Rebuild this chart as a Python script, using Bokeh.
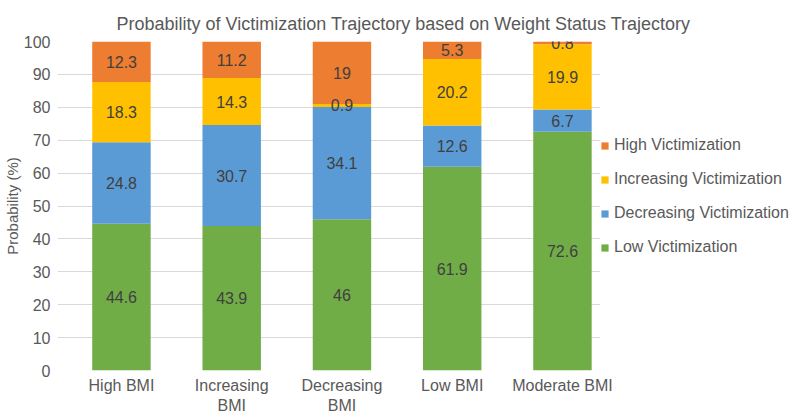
from bokeh.plotting import figure
from bokeh.models import (ColumnDataSource, Legend, LegendItem, LabelSet, Range1d,
                          FixedTicker, LinearAxis)
from bokeh.core.properties import value
from bokeh.embed import file_html
from bokeh.resources import INLINE

categories = ["High BMI", "Increasing BMI", "Decreasing BMI", "Low BMI", "Moderate BMI"]
cat_line1 = ["High BMI", "Increasing", "Decreasing", "Low BMI", "Moderate BMI"]
cat_line2 = ["", "BMI", "BMI", "", ""]
series = ["Low Victimization", "Decreasing Victimization", "Increasing Victimization", "High Victimization"]
low_vict = [44.6, 43.9, 46, 61.9, 72.6]
decreasing_vict = [24.8, 30.7, 34.1, 12.6, 6.7]
increasing_vict = [18.3, 14.3, 0.9, 20.2, 19.9]
high_vict = [12.3, 11.2, 19, 5.3, 0.8]
colors = ["#70AD47", "#5B9BD5", "#FFC000", "#ED7D31"]
y_ticks = [0, 10, 20, 30, 40, 50, 60, 70, 80, 90, 100]

FONT = "Liberation Sans"
TXT = "#595959"

xpos = list(range(len(categories)))
values = [low_vict, decreasing_vict, increasing_vict, high_vict]
data = {"x": xpos}
for name, vals in zip(series, values):
    data[name] = vals
src = ColumnDataSource(data)

p = figure(frame_width=543, frame_height=329, output_backend="svg",
           toolbar_location=None, min_border_left=51, min_border_right=0,
           min_border_top=41, min_border_bottom=10)
p.x_range = Range1d(-0.58, 4.345)
p.y_range = Range1d(0, 100)

renderers = p.vbar_stack(series, x="x", width=0.53, source=src, color=colors,
                         line_color=None)

# data labels
for i, name in enumerate(series):
    bottoms = [sum(values[k][j] for k in range(i)) for j in range(len(categories))]
    mids = [b + v / 2 for b, v in zip(bottoms, values[i])]
    texts = [f"{v:g}" for v in values[i]]
    lsrc = ColumnDataSource(dict(x=xpos, y=mids, t=texts))
    p.add_layout(LabelSet(x="x", y="y", text="t", source=lsrc, text_align="center",
                          text_baseline="middle", text_font=value(FONT),
                          text_font_size="16px", text_color="#404040"))

items = [LegendItem(label=series[i], renderers=[renderers[i]]) for i in [3, 2, 1, 0]]
legend = Legend(items=items, location=(0, 113), label_text_font=FONT,
                label_text_font_size="16px", label_text_color=TXT,
                glyph_width=9, glyph_height=9, label_height=20, spacing=14,
                padding=0, margin=0, border_line_color=None, background_fill_alpha=0,
                label_standoff=5)
p.add_layout(legend, "right")

p.title.text = "Probability of Victimization Trajectory based on Weight Status Trajectory"
p.title.align = "left"
p.title.offset = 59
p.title.text_font = FONT
p.title.text_font_size = "18px"
p.title.text_font_style = "normal"
p.title.text_color = TXT
p.title.standoff = 16

p.outline_line_color = None
p.xgrid.grid_line_color = None
p.ygrid.grid_line_color = "#D9D9D9"
p.yaxis.ticker = FixedTicker(ticks=y_ticks)
p.xaxis.ticker = FixedTicker(ticks=xpos)
p.xaxis.major_label_overrides = {i: l for i, l in zip(xpos, cat_line1)}

x2 = LinearAxis(ticker=FixedTicker(ticks=xpos),
                major_label_overrides={i: (l if l else " ") for i, l in zip(xpos, cat_line2)})
p.add_layout(x2, "below")

for ax in [p.xaxis[0], x2, p.yaxis[0]]:
    ax.axis_line_color = None
    ax.major_tick_line_color = None
    ax.minor_tick_line_color = None
    ax.major_tick_out = 0
    ax.major_tick_in = 0
    ax.minor_tick_out = 0
    ax.major_label_text_font = FONT
    ax.major_label_text_font_size = "16px"
    ax.major_label_text_color = TXT
p.yaxis.axis_label = "Probability (%)"
p.yaxis.axis_label_text_font = FONT
p.yaxis.axis_label_text_font_size = "15px"
p.yaxis.axis_label_text_font_style = "normal"
p.yaxis.axis_label_text_color = TXT
p.yaxis.major_label_standoff = 7
p.yaxis.axis_label_standoff = 0
p.xaxis[0].major_label_standoff = 6
x2.major_label_standoff = 0

open("out.html", "w").write(file_html(p, INLINE))
